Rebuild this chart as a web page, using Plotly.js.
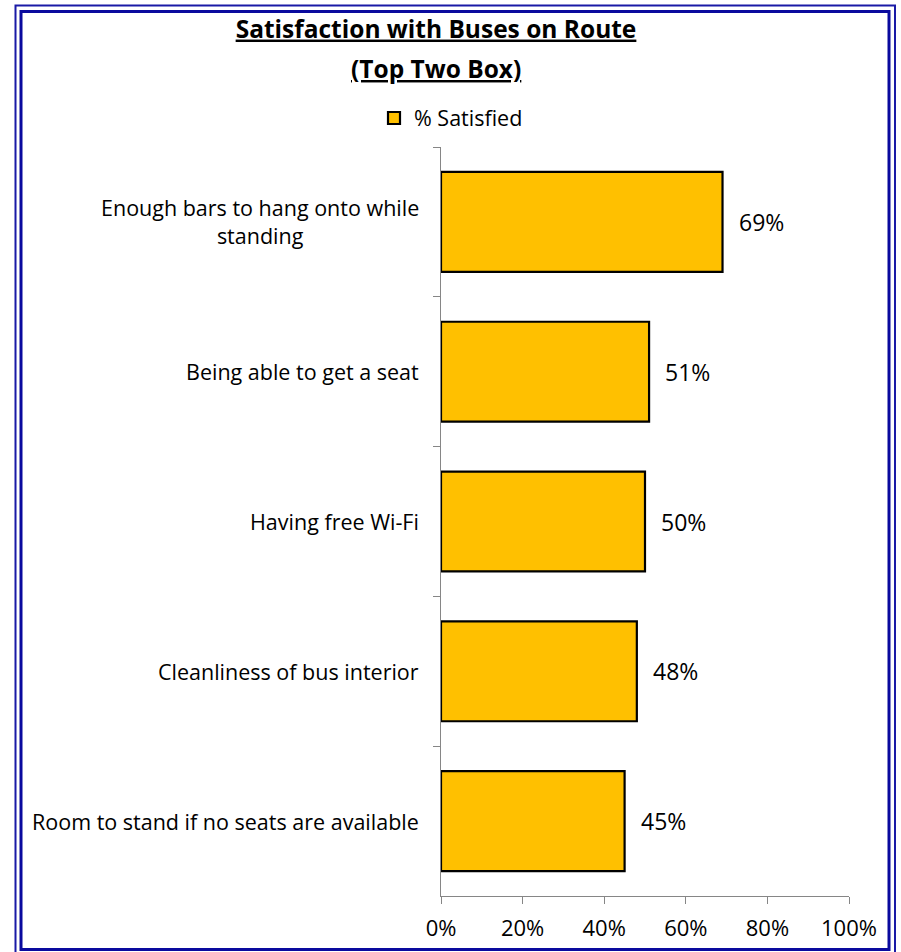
<!DOCTYPE html>
<html>
<head>
<meta charset="utf-8">
<script src="https://cdn.plot.ly/plotly-3.0.1.min.js"></script>
<style>
  html, body { margin: 0; padding: 0; background: #fff; }
  #chart { width: 901px; height: 952px; }
</style>
</head>
<body>
<div id="chart"></div>
<script>
// ---- data ----
var categories = [
  "Enough bars to hang onto while<br>standing",
  "Being able to get a seat",
  "Having free Wi-Fi",
  "Cleanliness of bus interior",
  "Room to stand if no seats are available"
];
var satisfied = [0.69, 0.51, 0.50, 0.48, 0.45];
var seriesName = "% Satisfied";
var xTickVals = [0, 0.2, 0.4, 0.6, 0.8, 1.0];
var xTickText = ["0%", "20%", "40%", "60%", "80%", "100%"];
var titleLine1 = "Satisfaction with Buses on Route";
var titleLine2 = "(Top Two Box)";

// ---- layout geometry (pixels) ----
var W = 901, H = 952;
var M = { l: 441, r: 52, t: 147, b: 56 };
var PW = W - M.l - M.r, PH = H - M.t - M.b;
function px(x) { return (x - M.l) / PW; }
function py(y) { return (H - M.b - y) / PH; }

var FONT = "'Open Sans', 'Noto Sans', sans-serif";

var trace = {
  type: "bar",
  orientation: "h",
  y: categories,
  x: satisfied,
  name: seriesName,
  marker: { color: "#FFC000", line: { color: "#000000", width: 2.2 } },
  hoverinfo: "skip",
  showlegend: true
};

var annotations = [];
for (var i = 0; i < categories.length; i++) {
  annotations.push({
    x: satisfied[i], y: categories[i], xref: "x", yref: "y",
    text: Math.round(satisfied[i] * 100) + "%",
    showarrow: false, xanchor: "left", yanchor: "middle", xshift: 14,
    font: { family: FONT, size: 23, color: "#000" }
  });
  annotations.push({
    x: 0, y: categories[i], xref: "paper", yref: "y",
    text: categories[i],
    showarrow: false, xanchor: "right", yanchor: "middle", xshift: -20,
    align: "center",
    font: { family: FONT, size: 21.5, color: "#000" }
  });
}
annotations.push({
  x: (436 - M.l) / PW, y: py(68), xref: "paper", yref: "paper",
  text: "<b>" + titleLine2 + "</b>",
  showarrow: false, xanchor: "center", yanchor: "middle",
  font: { family: FONT, size: 24.5, color: "#000", weight: 700, lineposition: "under" }
});

function rect(x0, y0, x1, y1, w, c) {
  return { type: "rect", xref: "paper", yref: "paper",
    x0: px(x0), x1: px(x1), y0: py(y1), y1: py(y0),
    line: { color: c, width: w }, fillcolor: "rgba(0,0,0,0)", layer: "above" };
}

var layout = {
  width: W, height: H,
  margin: M,
  paper_bgcolor: "#fff", plot_bgcolor: "#fff",
  font: { family: FONT, size: 21.5, color: "#000" },
  title: {
    text: titleLine1,
    x: 436 / W, xref: "container", xanchor: "center",
    y: 1 - 29 / H, yref: "container", yanchor: "middle",
    font: { family: FONT, size: 24.5, color: "#000", weight: 700, lineposition: "under" }
  },
  bargap: 0.333,
  xaxis: {
    range: [0, 1], tickvals: xTickVals, ticktext: xTickText,
    showgrid: false, zeroline: false,
    showline: true, linecolor: "#868686", linewidth: 1,
    ticks: "outside", ticklen: 7, tickcolor: "#868686",
    ticklabelstandoff: 6,
    tickfont: { family: FONT, size: 22, color: "#000" },
    fixedrange: true
  },
  yaxis: {
    type: "category", autorange: "reversed",
    showticklabels: false, showgrid: false, zeroline: false,
    showline: true, linecolor: "#868686", linewidth: 1,
    ticks: "outside", ticklen: 7, tickcolor: "#868686",
    tickson: "boundaries",
    fixedrange: true
  },
  legend: {
    orientation: "h", xref: "container", yref: "container",
    x: 451 / W, xanchor: "center", y: 1 - 118 / H, yanchor: "middle",
    font: { family: FONT, size: 21.5, color: "#000" },
    bgcolor: "rgba(0,0,0,0)"
  },
  annotations: annotations,
  shapes: [
    rect(15.5, 5.5, 895, 958, 2, "#1A1AA6"),
    rect(21, 11.5, 889, 949.5, 3, "#0A0A9E")
  ]
};

Plotly.newPlot("chart", [trace], layout, { displayModeBar: false, staticPlot: true });
</script>
</body>
</html>
